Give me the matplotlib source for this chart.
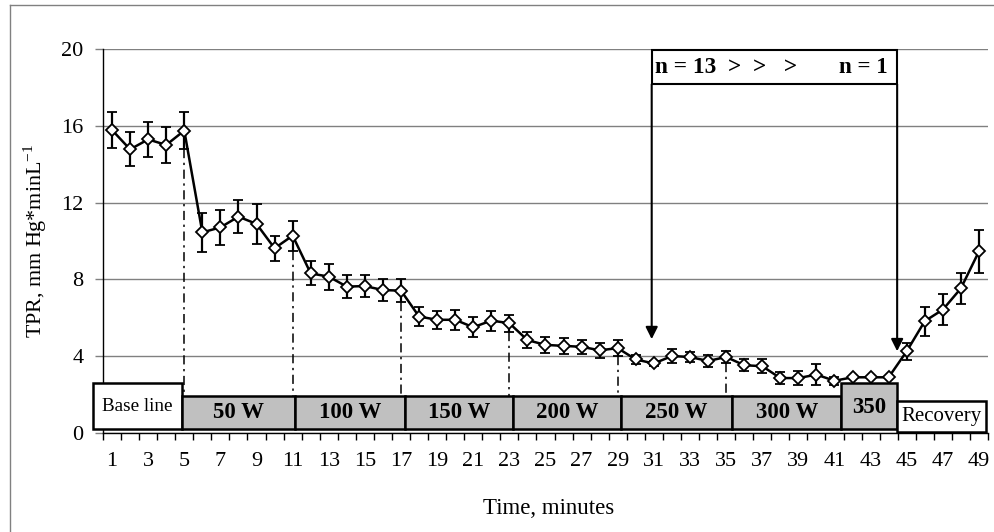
import matplotlib
matplotlib.use("Agg")
import matplotlib.pyplot as plt
from matplotlib.patches import Rectangle
import numpy as np

# ---- data ----
minutes = list(range(1, 50))
tpr = [15.79, 14.78, 15.30, 15.01, 15.76, 10.45, 10.71, 11.27, 10.89, 9.62,
       10.28, 8.31, 8.14, 7.62, 7.65, 7.44, 7.41, 6.06, 5.89, 5.89,
       5.50, 5.85, 5.71, 4.83, 4.58, 4.53, 4.48, 4.30, 4.41, 3.82,
       3.61, 4.00, 3.95, 3.74, 3.95, 3.52, 3.47, 2.85, 2.85, 3.03,
       2.71, 2.89, 2.89, 2.89, 4.25, 5.82, 6.42, 7.53, 9.46]
tpr_err = [0.95, 0.88, 0.93, 0.94, 0.96, 1.02, 0.93, 0.87, 1.03, 0.66,
           0.78, 0.63, 0.67, 0.60, 0.59, 0.59, 0.61, 0.48, 0.47, 0.52,
           0.51, 0.52, 0.44, 0.41, 0.40, 0.40, 0.38, 0.38, 0.40, 0.22,
           0.15, 0.37, 0.26, 0.30, 0.30, 0.30, 0.35, 0.30, 0.37, 0.55,
           0.22, 0.05, 0.05, 0.05, 0.44, 0.75, 0.79, 0.82, 1.12]
stage_labels = ["Base line", "50 W", "100 W", "150 W", "200 W", "250 W", "300 W", "350", "Recovery"]
stage_edges = [-0.05, 4.85, 11.14, 17.2, 23.2, 29.17, 35.33, 41.38, 44.47, 49.4]
stage_change_minutes = [5, 11, 17, 23, 29, 35]
xtick_labels = [str(m) for m in range(1, 50, 2)]
yticks = [0, 4, 8, 12, 16, 20]
n_text_left = "n = 13  >  >   >"
n_text_right = "n = 1"
n_window = [30.88, 44.47]

SERIF = ["Liberation Serif", "DejaVu Serif"]
plt.rcParams["font.family"] = SERIF
plt.rcParams["mathtext.fontset"] = "custom"
plt.rcParams["mathtext.rm"] = "Liberation Serif"

fig = plt.figure(figsize=(9.95, 5.32), dpi=100)
ax = fig.add_axes([103/995, 1 - 432.7/532, 885/995, (432.7 - 49.3)/532])

ax.set_xlim(0.5, 49.5)
ax.set_ylim(0, 20)

# grid
ax.set_yticks(yticks)
ax.yaxis.grid(True, color="#808080", lw=1.0)
ax.set_axisbelow(True)

# spines
for s in ["top", "right"]:
    ax.spines[s].set_visible(False)
for s in ["left", "bottom"]:
    ax.spines[s].set_color("black")
    ax.spines[s].set_linewidth(1.0)

# x ticks: labels at odd minutes, tick marks at category boundaries
ax.set_xticks(list(range(1, 50, 2)))
ax.set_xticklabels(xtick_labels)
ax.set_xticks(np.arange(0.5, 50, 1.0), minor=True)
ax.tick_params(axis="x", which="major", length=0, pad=14, labelsize=16)
ax.tick_params(axis="x", which="minor", length=5, width=1, color="black", direction="out")
ax.tick_params(axis="y", which="major", length=6, width=1, color="#808080", pad=8, labelsize=16)

# data
ax.errorbar(minutes, tpr, yerr=tpr_err, fmt="-D", color="black", mfc="white", mec="black",
            ms=5.8, mew=1.3, lw=1.8, elinewidth=1.6, capsize=3.3, capthick=1.6, zorder=5)

# dash-dot lines at stage changes
gray_top = 1.93
for m in stage_change_minutes:
    i = minutes.index(m)
    ax.plot([m, m], [tpr[i] - tpr_err[i], gray_top], color="black", lw=1.1,
            linestyle=(0, (6, 3, 1.5, 3)), zorder=3)

# stage boxes
for k, lab in enumerate(stage_labels):
    x0, x1 = stage_edges[k], stage_edges[k + 1]
    if lab == "Base line":
        y0, y1, fc, bold, fs = 0.19, 2.58, "white", False, 13.8
    elif lab == "Recovery":
        y0, y1, fc, bold, fs = 0.02, 1.67, "white", False, 15
    elif lab == "350":
        y0, y1, fc, bold, fs = 0.19, 2.58, "#c0c0c0", True, 16.5
    else:
        y0, y1, fc, bold, fs = 0.19, 1.93, "#c0c0c0", True, 16.5
    ax.add_patch(Rectangle((x0, y0), x1 - x0, y1 - y0, facecolor=fc, edgecolor="black",
                           lw=1.8, clip_on=False, zorder=6))
    if lab == "350":
        ty = 1.33
    else:
        ty = (y0 + y1) / 2
    ax.text((x0 + x1) / 2, ty, lab, ha="center", va="center", fontsize=fs,
            fontweight="bold" if bold else "normal", zorder=7, clip_on=False)

# n window box and arrows
hdr_bottom, hdr_top = 18.17, 19.96
ax.add_patch(Rectangle((n_window[0], hdr_bottom), n_window[1] - n_window[0], hdr_top - hdr_bottom,
                       facecolor="white", edgecolor="black", lw=1.5, zorder=6, clip_on=False))
ax.text(n_window[0] + 0.2, (hdr_bottom + hdr_top) / 2, n_text_left, ha="left", va="center",
        fontsize=16.8, fontweight="bold", zorder=7)
ax.text(n_window[1] - 0.5, (hdr_bottom + hdr_top) / 2, n_text_right, ha="right", va="center",
        fontsize=16.5, fontweight="bold", zorder=7)
for xa, tip in [(n_window[0], 4.88), (n_window[1], 4.25)]:
    ax.annotate("", xy=(xa, tip), xytext=(xa, hdr_bottom),
                arrowprops=dict(arrowstyle="-|>", color="black", lw=1.5,
                                mutation_scale=18, shrinkA=0, shrinkB=0), zorder=6)

# axis titles
fig.text(35/995, 1 - 241/532, r"TPR, mm Hg*minL$^{\mathregular{-1}}$", rotation=90,
         ha="center", va="center", fontsize=15.8)
fig.text(549/995, 1 - 508/532, "Time, minutes", ha="center", va="center", fontsize=16.5)

# outer chart-area border (top and left visible)
fig.add_artist(plt.Line2D([10/995, 1.0], [1 - 5/532, 1 - 5/532], transform=fig.transFigure,
                          color="#808080", lw=1.0))
fig.add_artist(plt.Line2D([10/995, 10/995], [0, 1 - 5/532], transform=fig.transFigure,
                          color="#808080", lw=1.0))

fig.savefig("out.png", dpi=100)
